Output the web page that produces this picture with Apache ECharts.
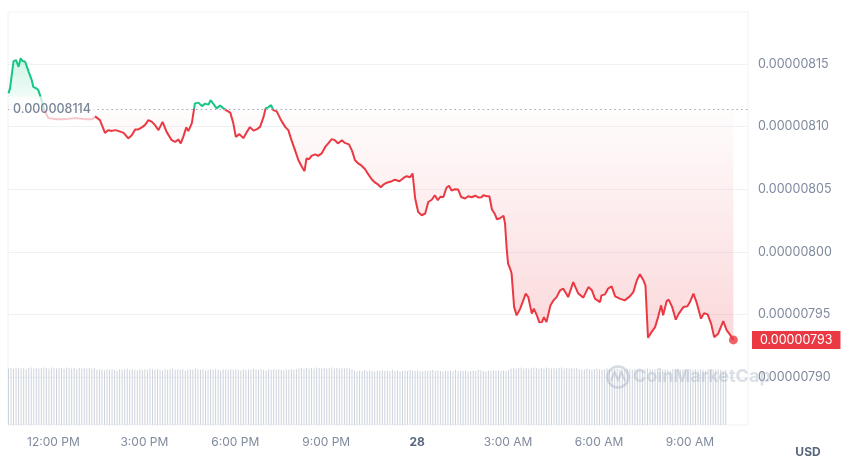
<!DOCTYPE html>
<html><head><meta charset="utf-8">
<script src="https://cdn.jsdelivr.net/npm/echarts@6/dist/echarts.min.js"></script>
<style>html,body{margin:0;padding:0;background:#fff}#c{width:850px;height:467px}</style>
</head><body><div id="c"></div>
<script>
// time in minutes relative to 12:00 PM (day 27)
const minutes = [-89,-86,-79,-74,-69,-65,-61,-56,-49,-43,
-40,-34,-30,-25,-18,-10,3,23,43,63,
77,83,92,102,108,116,122,128,139,148,
155,162,168,175,181,188,195,201,208,216,
224,234,241,247,252,257,263,267,274,280,
287,294,300,307,311,317,323,330,336,343,
350,356,361,368,371,376,382,389,396,403,
409,416,420,425,431,435,442,449,453,459,
465,470,477,485,492,497,501,506,511,518,
524,531,538,544,551,557,563,571,577,585,
591,597,604,610,617,623,630,637,643,648,
653,660,670,676,685,693,699,706,711,716,
722,729,736,742,749,755,761,766,772,778,
783,788,795,801,807,815,821,828,835,841,
848,851,858,863,868,874,878,884,891,894,
897,900,904,907,912,917,924,930,935,940,
947,951,957,962,967,971,976,984,990,996,
1003,1009,1019,1029,1039,1049,1059,1066,1072,1082,
1085,1092,1098,1105,1112,1121,1131,1141,1148,1155,
1161,1168,1172,1177,1184,1191,1197,1203,1207,1214,
1218,1225,1232,1238,1247,1255,1260,1267,1273,1282,
1288,1295,1302,1308,1316,1326,1333,1339,1346];
// price in units of 1e-8 USD
const pricesE8 = [812.66,813.06,815.24,815.32,814.78,815.46,815.24,815.18,814.38,813.72,
813.18,813.06,812.92,812.30,811.32,810.68,810.60,810.60,810.68,810.60,
810.60,810.80,810.52,809.50,809.72,809.66,809.72,809.66,809.50,809.06,
809.32,809.78,809.78,809.94,810.12,810.52,810.38,810.12,809.72,810.38,
809.58,808.92,808.78,808.98,808.66,809.18,809.94,809.64,810.28,811.86,
811.92,811.64,811.84,811.76,812.12,811.80,811.46,811.68,811.48,811.28,
811.12,810.28,809.18,809.40,809.52,809.08,809.52,809.96,809.68,809.80,
809.98,810.78,811.46,811.54,811.72,811.32,811.22,810.64,810.36,809.96,
809.72,809.06,808.26,807.32,806.78,806.44,807.46,807.40,807.66,807.78,
807.66,807.86,808.38,808.66,809.00,808.92,808.66,808.92,808.70,808.58,
808.08,807.32,807.04,806.88,806.60,806.20,805.80,805.52,805.36,805.16,
805.36,805.52,805.64,805.76,805.64,805.90,806.04,805.96,806.26,804.28,
803.18,802.92,803.06,803.98,804.16,804.52,804.12,804.40,804.38,805.12,
805.28,804.90,805.00,804.98,804.38,804.26,804.44,804.36,804.48,804.34,
804.36,804.52,804.44,804.44,803.40,803.00,802.60,802.68,802.88,802.26,
800.38,799.06,798.66,798.26,795.58,794.92,795.46,796.12,796.66,796.38,
795.06,795.46,794.92,794.36,794.38,794.78,794.38,795.72,796.12,796.38,
796.92,797.06,796.38,797.58,796.66,796.34,797.18,796.92,796.26,795.98,
796.52,796.60,797.06,797.24,796.44,796.26,796.12,796.44,796.78,797.72,
798.20,797.72,797.32,793.14,793.58,793.98,794.78,795.72,794.92,796.06,
796.18,795.58,794.58,795.06,795.58,795.64,795.98,796.66,795.98,794.66,
795.10,795.00,794.26,793.18,793.46,794.46,793.72,793.40,792.96];
const baselineE8 = 811.4;
// 5-minute volume candles (relative units)
const volStartMinute = -89;
const volStepMinutes = 5;
const volumes = [94,95,94,96,95,94,95,93,95,96,94,95,94,95,96,
95,94,96,95,94,95,95,94,96,95,94,95,93,95,94,
95,94,95,94,95,92,93,92,91,93,92,93,92,91,93,
92,93,94,92,93,92,91,93,92,93,92,94,93,92,93,
92,91,93,92,93,94,92,93,92,93,91,92,93,92,94,
93,92,93,91,92,93,92,93,92,91,93,92,92,93,92,
93,92,91,93,92,93,92,94,93,92,93,92,91,93,92,
93,92,93,92,91,93,92,93,92,93,94,95,94,95,94,
95,94,96,95,94,95,94,95,96,94,95,94,95,94,95,
94,93,91,90,91,90,92,90,91,90,89,91,90,91,90,
91,90,92,90,91,89,90,91,90,92,91,90,91,89,90,
91,90,91,92,90,91,90,89,91,90,91,90,92,90,91,
90,91,89,90,91,90,92,91,90,89,91,90,91,90,91,
90,91,90,92,94,95,94,95,96,94,95,94,95,96,95,
94,95,94,96,95,94,95,94,95,96,94,95,94,95,94,
95,93,92,93,94,93,92,93,94,93,92,93,94,93,92,
93,94,93,92,93,94,93,92,93,93,94,92,93,94,93,
92,93,94,93,92,93,92,91,93,92,93,92,93,92,91,
93,92,93,92,93,92,91,93,92,93,92,93,92,91,92];
const xTickMinutes = [0,180,360,540,720,900,1080,1260];
const xTickLabels = ['12:00 PM','3:00 PM','6:00 PM','9:00 PM','28','3:00 AM','6:00 AM','9:00 AM'];
const yTicksE8 = [790,795,800,805,810,815];

const RED = '#ea3943', GREEN = '#16c784';
const xMin = -90, xMax = 1375, yMin = 786.16, yMax = 819.16;
const fmtPrice = v => (v * 1e-8).toFixed(8);
const priceData = minutes.map((m, i) => [m, pricesE8[i]]);
const aboveData = minutes.map((m, i) => [m, Math.max(pricesE8[i], baselineE8)]);
const belowData = minutes.map((m, i) => [m, Math.min(pricesE8[i], baselineE8)]);
const volData = volumes.map((v, i) => [volStartMinute + i * volStepMinutes, v]);
const last = priceData[priceData.length - 1];

const chart = echarts.init(document.getElementById('c'), null, {renderer: 'canvas'});
chart.setOption({
  animation: false,
  textStyle: {fontFamily: 'Inter, Roboto, sans-serif'},
  grid: [
    {left: 8, right: 102, top: 12, bottom: 42, show: true, borderColor: '#eff2f5', borderWidth: 1},
    {left: 8, right: 102, top: 365, bottom: 42}
  ],
  xAxis: [
    {type: 'value', gridIndex: 0, min: xMin, max: xMax, show: false},
    {type: 'value', gridIndex: 1, min: xMin, max: xMax,
     axisLine: {show: false}, axisTick: {show: false}, splitLine: {show: false},
     axisLabel: {customValues: xTickMinutes, color: '#808a9d', fontSize: 12, margin: 11,
       formatter: v => { const k = xTickMinutes.indexOf(v); const s = k >= 0 ? xTickLabels[k] : ''; return s === '28' ? '{b|28}' : s; },
       rich: {b: {fontWeight: 'bold', color: '#58667e', fontSize: 12}}}}
  ],
  yAxis: [
    {type: 'value', gridIndex: 0, position: 'right', min: yMin, max: yMax,
     axisLine: {show: false}, axisTick: {show: false, customValues: yTicksE8},
     splitLine: {show: true, lineStyle: {color: '#eff2f5', width: 1}},
     axisLabel: {customValues: yTicksE8, formatter: fmtPrice, color: '#808a9d', fontSize: 12.5, margin: 10}},
    {type: 'value', gridIndex: 0, position: 'right', min: yMin, max: yMax,
     axisLine: {show: false}, axisTick: {show: false}, splitLine: {show: false},
     axisLabel: {customValues: [last[1]], formatter: fmtPrice, color: '#fff', backgroundColor: RED,
       padding: [3, 8, 2, 8], margin: 4, fontSize: 12.5}},
    {type: 'value', gridIndex: 1, min: 0, max: 100, show: false}
  ],
  visualMap: {show: false, type: 'piecewise', dimension: 1, seriesIndex: 0,
    pieces: [{gte: 700, lt: baselineE8, color: RED}, {gte: baselineE8, lte: 900, color: GREEN}]},
  series: [
    {type: 'line', xAxisIndex: 0, yAxisIndex: 0, data: priceData, showSymbol: false, z: 4,
     lineStyle: {width: 2}, silent: true,
     markLine: {silent: true, symbol: 'none', label: {show: false},
       lineStyle: {color: '#a1a7bb', type: [1.5, 3.2], width: 1.2},
       data: [{yAxis: baselineE8}]}},
    {type: 'line', xAxisIndex: 0, yAxisIndex: 0, data: aboveData, showSymbol: false, silent: true, z: 2,
     lineStyle: {width: 0, opacity: 0},
     areaStyle: {origin: baselineE8, color: {type: 'linear', x: 0, y: 0, x2: 0, y2: 1,
       colorStops: [{offset: 0, color: 'rgba(22,199,132,0.28)'}, {offset: 1, color: 'rgba(22,199,132,0.03)'}]}}},
    {type: 'line', xAxisIndex: 0, yAxisIndex: 0, data: belowData, showSymbol: false, silent: true, z: 2,
     lineStyle: {width: 0, opacity: 0},
     areaStyle: {origin: baselineE8, color: {type: 'linear', x: 0, y: 0, x2: 0, y2: 1,
       colorStops: [{offset: 0, color: 'rgba(234,57,67,0.02)'}, {offset: 1, color: 'rgba(234,57,67,0.28)'}]}}},
    {type: 'scatter', xAxisIndex: 0, yAxisIndex: 0, data: [[xMin, baselineE8]], symbolSize: 0, z: 10, silent: true,
     label: {show: true, position: 'right', distance: 1, formatter: () => (baselineE8 * 1e-8).toFixed(9),
       color: '#58667e', fontSize: 12.5, fontWeight: 500, backgroundColor: 'rgba(255,255,255,0.88)', padding: [6, 4, 6, 4]}},
    {type: 'scatter', xAxisIndex: 0, yAxisIndex: 0, data: [last], symbolSize: 9, z: 11, silent: true,
     itemStyle: {color: RED}},
    {type: 'bar', xAxisIndex: 1, yAxisIndex: 2, data: volData, barWidth: 1, silent: true,
     itemStyle: {color: '#cdd3dc'}}
  ],
  graphic: [
    {type: 'circle', z: 20, shape: {cx: 618, cy: 377, r: 10.5},
     style: {fill: 'none', stroke: 'rgba(165,174,192,0.45)', lineWidth: 2.5}},
    {type: 'polyline', z: 20, shape: {points: [[611, 381], [614.5, 372], [618, 380], [621.5, 372], [625, 381]]},
     style: {fill: 'none', stroke: 'rgba(165,174,192,0.45)', lineWidth: 2}},
    {type: 'text', z: 20, x: 633, y: 377,
     style: {text: 'CoinMarketCap', font: 'bold 18px Inter, Roboto, sans-serif', fill: 'rgba(165,174,192,0.4)', verticalAlign: 'middle', align: 'left'}},
    {type: 'text', z: 20, x: 808, y: 452,
     style: {text: 'USD', font: 'bold 12px Inter, Roboto, sans-serif', fill: '#58667e', verticalAlign: 'middle', align: 'center'}}
  ]
});
</script></body></html>
